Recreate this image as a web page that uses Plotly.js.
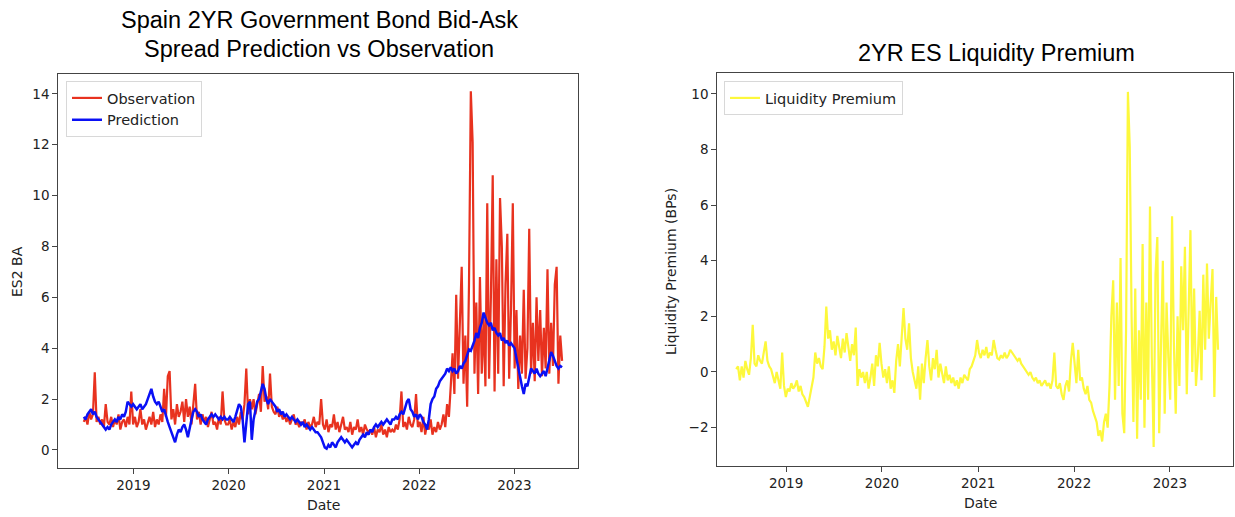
<!DOCTYPE html>
<html>
<head>
<meta charset="utf-8">
<script src="https://cdn.plot.ly/plotly-3.0.1.min.js"></script>
<style>html,body{margin:0;padding:0;background:#fff;}#chart{width:1235px;height:517px;}</style>
</head>
<body>
<div id="chart"></div>
<script>
// ---- Data (weekly readings, first week starting 2018-06-25) ----
var startDate = '2018-06-25';
var yearTicks = ['2019', '2020', '2021', '2022', '2023'];
var seriesNames = ['Observation', 'Prediction', 'Liquidity Premium'];

var observation2018 = [1.1,1.3,1.0,1.5,1.2,1.4,3.05,1.1,1.3, 1.0,1.2,0.9,1.8,1.1,1.0,1.3,0.9,1.2, 1.0,1.4,0.8,1.1,1.2,0.9,1.3,1.0,2.3];
var observation2019 = [1.0,1.3,0.9,1.1,1.6,1.0,1.2,0.8,1.1,1.3,1.0,1.5,0.9,
                       1.2,1.0,1.4,1.1,2.4,1.3,2.9,3.1,1.2,1.6,1.0,1.8,1.3,
                       1.5,1.9,1.1,2.0,1.3,1.7,1.0,1.8,2.6,1.2,1.5,1.0,1.4,
                       1.1,1.3,0.9,1.2,1.5,1.0,1.1,0.8,1.3,1.0,2.3,1.2,1.0];
var observation2020 = [1.0,1.2,0.8,1.1,0.9,1.3,1.0,1.5,1.2,1.8,3.2,1.4,2.0,
                       1.6,2.0,1.4,1.8,2.2,1.5,3.3,1.9,2.1,1.6,3.0,1.7,1.5,
                       1.4,1.7,1.3,1.5,1.2,1.4,1.1,1.3,1.0,1.2,1.4,1.0,1.1,
                       0.9,1.1,1.0,1.2,0.8,1.1,0.9,1.0,1.3,0.9,1.1,1.0,2.0];
var observation2021 = [1.0,0.8,1.2,0.7,1.0,0.9,1.4,0.8,1.1,0.7,1.0,1.3,0.8,
                       0.9,0.7,1.1,0.6,0.9,0.8,1.2,0.7,0.9,0.6,1.0,0.8,0.7,
                       0.8,0.6,0.9,0.5,0.8,0.7,1.0,0.6,0.8,0.5,0.9,0.7,0.8,
                       0.7,1.0,0.8,1.2,2.3,0.9,1.1,0.8,1.3,1.0,0.9,1.2,2.2];
var observation2022 = [0.9,1.1,0.7,1.3,0.6,1.0,0.8,1.2,0.6,0.9,0.7,1.1,0.8,
                       1.0,1.4,0.9,1.8,1.3,2.5,3.8,2.2,6.1,2.8,5.0,7.2,2.6,
                       4.5,1.7,6.5,14.1,12.1,3.0,5.8,2.2,6.8,3.0,5.2,2.5,9.7,
                       2.8,6.0,10.8,2.3,7.5,3.0,9.9,8.0,2.5,6.5,8.5,2.8,5.5];
var observation2023 = [9.7,3.2,5.5,2.4,4.5,3.0,6.3,2.8,4.0,8.7,3.0,5.0,2.7,6.0,
                       3.5,5.5,2.9,4.8,3.2,7.1,3.0,5.0,3.3,6.5,7.2,2.6,4.5,3.5];

var prediction2018 = [1.3,1.2,1.4,1.5,1.6,1.4,1.5,1.3,1.2,1.1,1.0,0.9,0.8,0.9,0.8,1.0,1.1,1.2,1.1,1.3,1.2,1.4,1.3,1.5,1.9,1.8,1.7];
var prediction2019 = [1.8,1.7,1.6,1.7,1.8,1.6,1.7,1.8,2.0,2.2,2.4,2.1,1.9,
                      1.8,1.9,1.7,1.5,1.6,1.3,1.1,0.9,0.7,0.5,0.3,0.6,0.8,
                      0.7,0.9,1.0,0.8,0.5,0.9,1.2,1.5,1.6,1.5,1.3,1.4,1.2,
                      1.1,1.0,1.2,1.3,1.4,1.3,1.4,1.3,1.2,1.3,1.2,1.3,1.2];
var prediction2020 = [1.2,1.3,1.2,1.1,1.3,1.6,1.8,1.7,1.2,0.3,1.0,1.8,1.9,
                      0.4,1.2,1.6,1.9,2.0,2.3,2.6,2.4,2.0,1.8,2.0,1.9,1.8,
                      1.7,1.5,1.6,1.4,1.5,1.3,1.4,1.3,1.2,1.3,1.2,1.1,1.2,
                      1.1,1.0,1.1,0.9,1.0,0.9,0.8,0.9,0.8,0.7,0.7,0.6,0.5];
var prediction2021 = [0.3,0.1,0.05,0.2,0.1,0.3,0.2,0.1,0.3,0.4,0.5,0.4,0.3,
                      0.4,0.3,0.2,0.1,0.2,0.3,0.2,0.4,0.5,0.6,0.5,0.7,0.6,
                      0.8,0.7,0.9,1.0,0.9,1.0,1.1,1.0,1.1,1.2,1.1,1.0,1.2,
                      1.2,1.3,1.2,1.4,1.5,1.4,1.7,1.9,2.0,1.6,1.5,1.3,1.4];
var prediction2022 = [1.2,1.4,1.3,1.1,1.0,0.8,1.2,1.8,2.0,2.1,2.4,2.5,2.7,
                      2.8,2.9,3.0,3.2,3.1,3.25,3.1,3.2,3.0,3.1,3.3,3.2,3.4,
                      3.5,3.7,3.95,3.9,4.1,4.3,4.6,4.4,4.8,5.0,5.4,5.2,5.0,
                      4.9,5.0,4.7,4.8,4.6,4.5,4.6,4.3,4.4,4.2,4.3,4.1,4.2];
var prediction2023 = [4.1,4.0,3.6,3.2,2.8,2.5,2.2,2.6,2.5,2.8,3.2,3.1,3.0,3.2,
                      3.0,2.9,3.0,3.1,2.9,3.2,3.5,3.85,3.7,3.5,3.3,3.2,3.3,3.25];

var premium2018 = [0.1,0.2,-0.3,0.2,-0.2,0.4,0.1,-0.1,0.5,1.7,0.3,0.2,0.6,0.4,0.3,0.8,1.1,0.4,0.2,0.1,-0.2,-0.4,0.0,-0.3,-0.6,0.7,-0.5];
var premium2019 = [-0.9,-0.6,-0.7,-0.4,-0.6,-0.5,-0.3,-0.7,-0.5,-0.8,-0.9,-1.1,-1.25,
                   -0.9,-0.6,-0.2,0.7,0.3,0.5,0.2,0.1,0.9,2.35,1.2,1.5,0.8,
                   1.1,0.6,1.3,0.9,0.5,1.2,0.7,1.4,0.8,0.4,1.0,0.6,1.6,
                   -0.5,0.1,-0.2,0.0,-0.4,0.0,-0.6,-0.2,0.3,-0.5,0.6,0.2,1.05];
var premium2020 = [0.3,-0.2,0.1,-0.4,0.2,-0.6,-0.3,-0.75,0.4,1.0,0.2,1.5,2.3,
                   1.2,0.8,1.75,0.5,0.0,-0.3,-0.6,0.2,-1.0,0.3,-0.4,0.5,1.15,
                   0.2,-0.3,0.5,0.1,0.8,-0.2,0.3,0.0,-0.4,0.2,-0.3,-0.1,-0.4,
                   -0.2,-0.5,-0.3,-0.6,-0.2,-0.4,-0.1,-0.2,-0.3,0.1,0.2,0.4,0.6];
var premium2021 = [1.15,0.7,0.5,0.8,0.6,0.9,0.5,0.7,0.6,1.15,0.8,0.5,0.45,
                   0.6,0.5,0.7,0.5,0.6,0.8,0.7,0.6,0.5,0.4,0.5,0.3,0.2,
                   0.1,0.0,-0.1,0.0,-0.2,-0.3,-0.2,-0.4,-0.3,-0.5,-0.4,-0.3,-0.5,
                   -0.4,-0.6,-0.3,0.7,-0.5,-0.6,-0.4,-0.8,-1.0,-0.5,-0.3,-0.7,0.4];
var premium2022 = [1.05,0.2,-0.4,0.8,-0.3,-0.2,-0.6,-0.8,-0.5,-1.0,-1.1,-1.4,-1.6,
                   -1.8,-2.3,-2.1,-2.5,-1.8,-1.5,-2.0,-0.5,2.0,3.3,-1.0,2.5,-0.5,
                   4.1,-1.5,-2.2,1.5,10.07,8.1,2.0,-1.8,3.0,-2.4,1.5,-1.0,4.6,
                   -2.0,2.5,-1.0,5.95,0.5,-2.7,3.5,4.85,-2.2,1.0,4.0,-1.5,2.5];
var premium2023 = [0.5,-1.0,5.6,1.0,-1.5,2.0,-0.5,3.8,1.5,4.5,-0.8,2.5,5.1,0.0,
                   3.0,-0.5,0.5,2.2,-0.3,3.5,0.8,3.9,1.2,2.5,3.7,-0.9,2.7,0.8];

var observation = [].concat(observation2018, observation2019, observation2020, observation2021, observation2022, observation2023);
var prediction  = [].concat(prediction2018, prediction2019, prediction2020, prediction2021, prediction2022, prediction2023);
var premium     = [].concat(premium2018, premium2019, premium2020, premium2021, premium2022, premium2023);

// weekly date axis
function weeklyDates(start, n) {
  var out = [];
  var d0 = new Date(start + 'T00:00:00Z').getTime();
  for (var i = 0; i < n; i++) {
    out.push(new Date(d0 + i * 7 * 86400000).toISOString().slice(0, 10));
  }
  return out;
}
var dates = weeklyDates(startDate, observation.length);
var tickDates = yearTicks.map(function (y) { return y + '-01-01'; });

var tickFont = {family: 'DejaVu Sans', size: 13.5, color: '#222'};
var labelFont = {family: 'DejaVu Sans', size: 14, color: '#222'};
var titleFont = {family: 'Liberation Sans, Arial, sans-serif', size: 23.5, color: '#000'};

function axisBase() {
  return {
    showgrid: false, zeroline: false, showline: true, mirror: true,
    linecolor: '#444', linewidth: 1.3,
    ticks: 'outside', ticklen: 4.5, tickwidth: 1, tickcolor: '#444',
    tickfont: tickFont
  };
}

var traces = [
  {x: dates, y: observation, name: seriesNames[0], type: 'scatter', mode: 'lines',
   line: {color: '#e8321f', width: 2.2}, xaxis: 'x', yaxis: 'y', legend: 'legend'},
  {x: dates, y: prediction, name: seriesNames[1], type: 'scatter', mode: 'lines',
   line: {color: '#0a10f5', width: 2.5}, xaxis: 'x', yaxis: 'y', legend: 'legend'},
  {x: dates, y: premium, name: seriesNames[2], type: 'scatter', mode: 'lines',
   line: {color: '#fdf83c', width: 2.2}, xaxis: 'x2', yaxis: 'y2', legend: 'legend2'}
];

var xa = axisBase();
xa.domain = [58 / 1235, 578 / 1235];
xa.type = 'date';
xa.range = ['2018-03-18', '2023-09-02'];
xa.tickvals = tickDates; xa.ticktext = yearTicks;
xa.anchor = 'y';

var ya = axisBase();
ya.domain = [49 / 517, 443 / 517];
ya.range = [-0.71, 14.78];
ya.tickvals = [0, 2, 4, 6, 8, 10, 12, 14];
ya.anchor = 'x';

var xa2 = axisBase();
xa2.domain = [717 / 1235, 1233 / 1235];
xa2.type = 'date';
xa2.range = ['2018-04-13', '2023-08-29'];
xa2.tickvals = tickDates; xa2.ticktext = yearTicks;
xa2.anchor = 'y2';

var ya2 = axisBase();
ya2.domain = [51 / 517, 444 / 517];
ya2.range = [-3.38, 10.75];
ya2.tickvals = [-2, 0, 2, 4, 6, 8, 10];
ya2.ticktext = ['\u22122', '0', '2', '4', '6', '8', '10'];
ya2.anchor = 'x2';

var legendStyle = {
  bgcolor: 'rgba(255,255,255,0.9)', bordercolor: '#d8d8d8', borderwidth: 1,
  font: {family: 'DejaVu Sans', size: 14.5, color: '#222'},
  xanchor: 'left', yanchor: 'top', tracegroupgap: 0, itemwidth: 30
};
var legend1 = Object.assign({}, legendStyle, {x: 66 / 1235, y: 436 / 517});
var legend2 = Object.assign({}, legendStyle, {x: 724 / 1235, y: 436 / 517});

var layout = {
  width: 1235, height: 517,
  margin: {l: 0, r: 0, t: 0, b: 0},
  paper_bgcolor: '#fff', plot_bgcolor: '#fff',
  showlegend: true,
  xaxis: xa, yaxis: ya, xaxis2: xa2, yaxis2: ya2,
  legend: legend1, legend2: legend2,
  annotations: [
    {text: 'Spain 2YR Government Bond Bid-Ask', xref: 'paper', yref: 'paper',
     x: 319 / 1235, y: 1 - 20 / 517, showarrow: false, font: titleFont, xanchor: 'center', yanchor: 'middle'},
    {text: 'Spread Prediction vs Observation', xref: 'paper', yref: 'paper',
     x: 319 / 1235, y: 1 - 49 / 517, showarrow: false, font: titleFont, xanchor: 'center', yanchor: 'middle'},
    {text: '2YR ES Liquidity Premium', xref: 'paper', yref: 'paper',
     x: 996 / 1235, y: 1 - 53 / 517, showarrow: false, font: titleFont, xanchor: 'center', yanchor: 'middle'},
    {text: 'ES2 BA', xref: 'paper', yref: 'paper', textangle: -90,
     x: 17 / 1235, y: 1 - 272 / 517, showarrow: false, font: labelFont, xanchor: 'center', yanchor: 'middle'},
    {text: 'Date', xref: 'paper', yref: 'paper',
     x: 323 / 1235, y: 1 - 505 / 517, showarrow: false, font: labelFont, xanchor: 'center', yanchor: 'middle'},
    {text: 'Liquidity Premium (BPs)', xref: 'paper', yref: 'paper', textangle: -90,
     x: 671 / 1235, y: 1 - 272 / 517, showarrow: false, font: labelFont, xanchor: 'center', yanchor: 'middle'},
    {text: 'Date', xref: 'paper', yref: 'paper',
     x: 980 / 1235, y: 1 - 503 / 517, showarrow: false, font: labelFont, xanchor: 'center', yanchor: 'middle'}
  ]
};

Plotly.newPlot('chart', traces, layout, {displayModeBar: false, staticPlot: true});
</script>
</body>
</html>
